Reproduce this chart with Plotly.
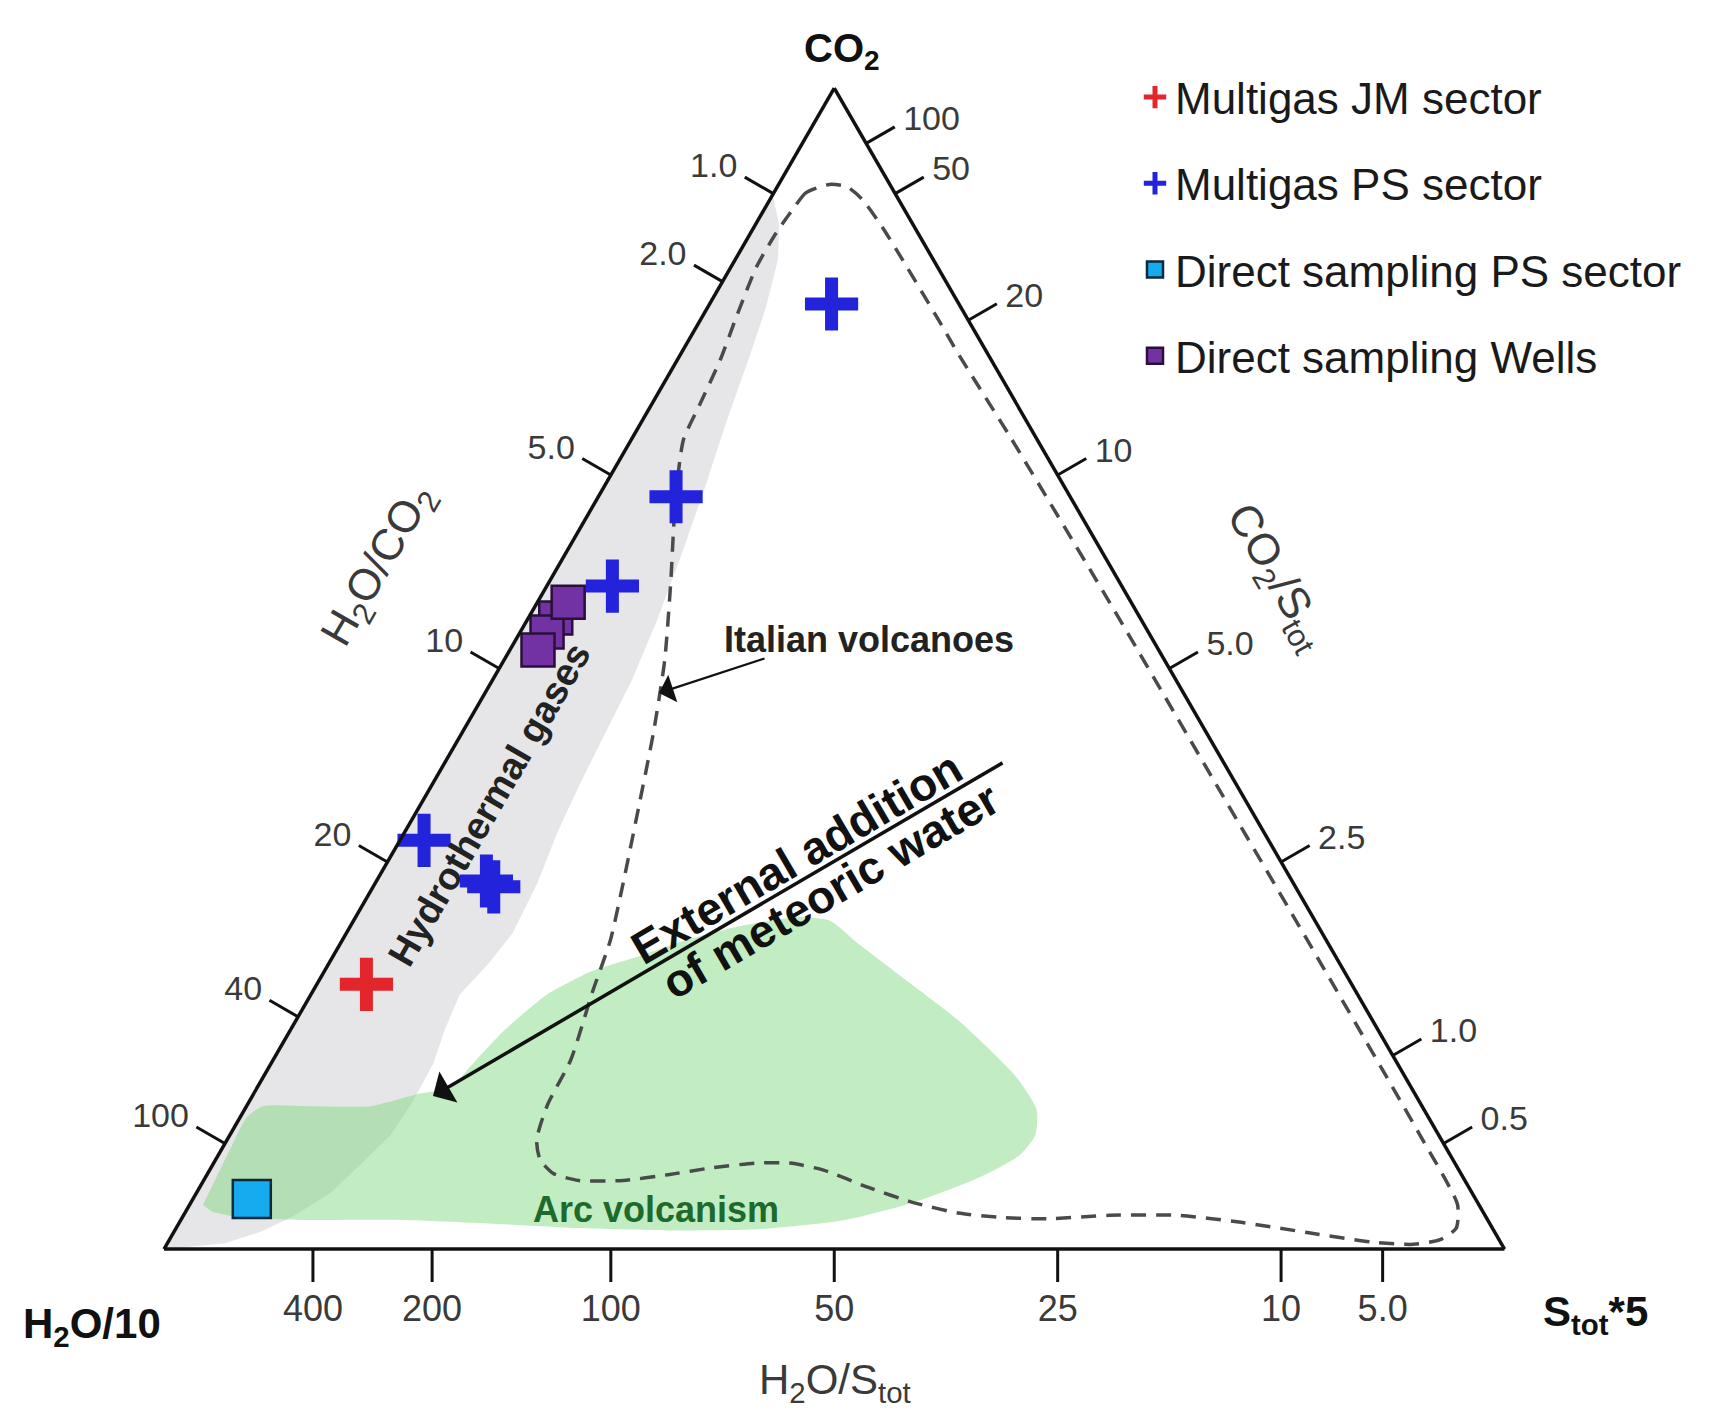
import plotly.graph_objects as go

# ---------------- data: ternary components in percent (CO2, H2O/10, Stot*5) ----------------
jm_co2 = [22.8]
jm_h2o = [73.5]
jm_s = [3.7]

ps_co2 = [81.4, 64.8, 57.1, 35.2, 31.7, 31.2]
ps_h2o = [9.5, 29.4, 38.0, 63.0, 60.1, 59.8]
ps_s = [9.1, 5.8, 4.9, 1.8, 8.2, 9.0]

dps_co2 = [4.3]
dps_h2o = [91.3]
dps_s = [4.4]

wells_co2 = [54.35, 53.15, 51.6, 55.7]
wells_h2o = [43.6, 44.85, 46.3, 42.0]
wells_s = [2.05, 2.0, 2.1, 2.3]

# Hydrothermal gases field
grey_co2 = [90.8, 88.2, 85.2, 80.9, 76.6, 71.4, 65.4, 59.8, 54.2, 49.0, 44.3, 40.0, 35.9, 31.5,
            27.2, 24.5, 21.9, 18.9, 16.0, 12.8, 9.8, 7.5, 4.8, 2.8, 1.5, 0.5, 0.1, 0.0]
grey_h2o = [9.2, 10.0, 11.6, 14.7, 18.1, 22.3, 27.0, 31.5, 36.1, 40.6, 45.0, 49.0, 52.7, 56.4,
            60.4, 63.6, 67.0, 69.6, 71.9, 75.0, 78.2, 81.4, 85.2, 89.0, 92.0, 95.2, 98.8, 100.0]
grey_s = [0.0, 1.8, 3.2, 4.4, 5.3, 6.3, 7.6, 8.7, 9.7, 10.4, 10.7, 11.0, 11.4, 12.1,
          12.4, 11.9, 11.1, 11.5, 12.1, 12.2, 12.0, 11.1, 10.0, 8.2, 6.5, 4.3, 1.1, 0.0]

# Arc volcanism field
arc_co2 = [3.8, 6.4, 9.0, 11.3, 12.3, 12.3, 12.3, 13.4, 13.9, 16.1, 18.9, 21.9, 23.9, 25.1, 26.6,
           27.9, 28.6, 28.3, 26.2, 24.0, 19.7, 14.8, 12.0, 9.8, 8.1, 6.2, 4.0, 2.5, 1.7, 1.6,
           1.8, 2.2, 2.5, 2.5, 2.7, 3.2]
arc_h2o = [95.2, 92.8, 90.4, 88.2, 86.5, 83.0, 78.5, 74.2, 71.7, 68.8, 65.1, 60.5, 56.2, 52.3, 47.8,
           42.7, 38.3, 36.2, 35.0, 33.6, 30.9, 29.0, 28.9, 30.1, 32.1, 36.0, 42.1, 47.9, 54.9, 61.6,
           68.2, 74.7, 81.1, 88.6, 93.0, 94.8]
arc_s = [1.0, 0.8, 0.6, 0.5, 1.2, 4.7, 9.2, 12.4, 14.4, 15.1, 16.0, 17.6, 19.9, 22.6, 25.6,
         29.4, 33.1, 35.5, 38.8, 42.4, 49.4, 56.2, 59.1, 60.1, 59.8, 57.8, 53.9, 49.6, 43.4, 36.8,
         30.0, 23.1, 16.4, 8.9, 4.3, 2.0]

# Italian volcanoes field (dashed outline)
ita_co2 = [91.7, 91.0, 89.3, 87.5, 84.6, 80.6, 76.6, 72.7, 69.7, 64.5, 57.4, 50.7, 44.4, 38.0,
           31.5, 26.6, 22.1, 16.3, 12.4, 9.4, 7.7, 6.5, 5.9, 5.9, 6.4, 7.0, 7.4, 7.4, 6.8, 5.3,
           4.0, 3.1, 2.7, 2.6, 2.9, 2.9, 2.3, 1.4, 0.6, 0.4, 0.8, 1.8, 3.8, 10.0, 25.0, 40.0,
           55.0, 70.0, 77.2, 79.4, 85.2, 88.0, 90.4, 91.5, 91.7]
ita_h2o = [4.5, 6.6, 8.6, 10.6, 13.5, 16.9, 20.2, 23.7, 26.4, 29.6, 33.5, 37.3, 41.3, 45.6,
           50.0, 53.4, 57.0, 61.5, 65.2, 67.5, 68.1, 67.7, 66.1, 62.8, 59.2, 55.6, 52.1, 49.6, 47.4, 44.8,
           42.1, 39.2, 36.0, 32.8, 28.0, 22.9, 18.5, 13.9, 9.6, 6.6, 4.4, 2.7, 1.6, 1.4, 1.4, 1.5,
           1.6, 1.9, 2.2, 2.2, 2.3, 2.4, 2.7, 3.3, 4.5]
ita_s = [3.8, 2.4, 2.1, 1.9, 1.9, 2.5, 3.2, 3.6, 3.9, 5.9, 9.1, 12.0, 14.3, 16.4,
         18.5, 20.0, 20.9, 22.2, 22.4, 23.1, 24.2, 25.8, 28.0, 31.3, 34.4, 37.4, 40.5, 43.0, 45.8, 49.9,
         53.9, 57.7, 61.3, 64.6, 69.1, 74.2, 79.2, 84.7, 89.8, 93.0, 94.8, 95.5, 94.6, 88.6, 73.6, 58.5,
         43.4, 28.1, 20.6, 18.4, 12.5, 9.6, 6.9, 5.2, 3.8]

# Ratio ticks along each side
h2o_co2_ratios = [1.0, 2.0, 5.0, 10, 20, 40, 100]
h2o_co2_labels = ["1.0", "2.0", "5.0", "10", "20", "40", "100"]
h2o_s_ratios = [400, 200, 100, 50, 25, 10, 5.0]
h2o_s_labels = ["400", "200", "100", "50", "25", "10", "5.0"]
co2_s_ratios = [100, 50, 20, 10, 5.0, 2.5, 1.0, 0.5]
co2_s_labels = ["100", "50", "20", "10", "5.0", "2.5", "1.0", "0.5"]

# ratio -> position on the edge (component definitions: CO2, H2O/10, Stot*5)
a_ticks = [100 * 10 / (10 + r) for r in h2o_co2_ratios]   # left edge: H2O/CO2 = 10 b / a
b_ticks = [100 * r / (50 + r) for r in h2o_s_ratios]      # bottom edge: H2O/Stot = 50 b / c
c_ticks = [100 * 5 / (5 + r) for r in co2_s_ratios]       # right edge: CO2/Stot = 5 a / c

W, H = 1722, 1411
TRI_L, TRI_R, TRI_BASE = 164, 1504.5, 1249
SQ3 = 3 ** 0.5
TRI_W = TRI_R - TRI_L
TRI_H = TRI_W * SQ3 / 2
TRI_TOP = TRI_BASE - TRI_H
FONT = "Liberation Sans, Arial, Helvetica, sans-serif"
TICK_LEN = 33 / TRI_W          # tick length in triangle-side units
COS30, SIN30 = SQ3 / 2, 0.5


def tern_xy(a, b, c):
    """Ternary percentages -> overlay cartesian units (triangle side = 1)."""
    s = a + b + c
    return (c + a / 2) / s, (a * SQ3 / 2) / s


def px(x):
    return x / W


def py(y):
    return 1 - y / H


left_xy = [tern_xy(v, 100 - v, 0) for v in a_ticks]
bottom_xy = [tern_xy(0, v, 100 - v) for v in b_ticks]
right_xy = [tern_xy(100 - v, 0, v) for v in c_ticks]

fig = go.Figure()

fig.add_trace(go.Scatterternary(a=grey_co2, b=grey_h2o, c=grey_s, mode="lines", fill="toself",
                                fillcolor="#e6e6e8", line=dict(width=0, color="#e6e6e8"),
                                showlegend=False, hoverinfo="skip"))
fig.add_trace(go.Scatterternary(a=arc_co2, b=arc_h2o, c=arc_s, mode="lines", fill="toself",
                                fillcolor="rgba(120,215,120,0.45)",
                                line=dict(width=0, color="rgba(120,215,120,0)", shape="spline", smoothing=0.6),
                                showlegend=False, hoverinfo="skip"))
fig.add_trace(go.Scatterternary(a=ita_co2, b=ita_h2o, c=ita_s, mode="lines",
                                line=dict(width=3.5, color="#4a4a4a", dash="15px,10px", shape="spline", smoothing=0.6),
                                showlegend=False, hoverinfo="skip"))

fig.add_trace(go.Scatterternary(a=jm_co2, b=jm_h2o, c=jm_s, mode="markers", name="Multigas JM sector",
                                legendgroup="g1", cliponaxis=False,
                                marker=dict(symbol="cross-thin", size=38, color="#e2262b",
                                            line=dict(width=13, color="#e2262b"))))
fig.add_trace(go.Scatterternary(a=ps_co2, b=ps_h2o, c=ps_s, mode="markers", name="Multigas PS sector",
                                legendgroup="g2", cliponaxis=False,
                                marker=dict(symbol="cross-thin", size=38, color="#2323dc",
                                            line=dict(width=13, color="#2323dc"))))
fig.add_trace(go.Scatterternary(a=dps_co2, b=dps_h2o, c=dps_s, mode="markers",
                                name="Direct sampling PS sector", legendgroup="g3", cliponaxis=False,
                                marker=dict(symbol="square", size=38, color="#16aaee",
                                            line=dict(width=2.5, color="#0b2a3a"))))
fig.add_trace(go.Scatterternary(a=wells_co2, b=wells_h2o, c=wells_s, mode="markers",
                                name="Direct sampling Wells", legendgroup="g4", cliponaxis=False,
                                marker=dict(symbol="square", size=33, color="#7332a3",
                                            line=dict(width=2.5, color="#2a0f3a"))))


# ---- perpendicular ratio ticks, drawn on an invisible cartesian overlay aligned with the triangle ----
def tick_trace(points, normal):
    xs, ys = [], []
    for x0, y0 in points:
        xs += [x0, x0 + normal[0] * TICK_LEN, None]
        ys += [y0, y0 + normal[1] * TICK_LEN, None]
    return go.Scatter(x=xs, y=ys, mode="lines", line=dict(color="#111111", width=3),
                      showlegend=False, hoverinfo="skip", xaxis="x", yaxis="y")


def label_trace(points, labels, off_px, pos, size):
    return go.Scatter(x=[p[0] + off_px[0] / TRI_W for p in points],
                      y=[p[1] + off_px[1] / TRI_W for p in points],
                      mode="text", text=labels, textposition=pos, cliponaxis=False,
                      showlegend=False, hoverinfo="skip", xaxis="x", yaxis="y",
                      textfont=dict(size=size, color="#3a3a3a", family=FONT))


fig.add_trace(tick_trace(left_xy, (-COS30, SIN30)))
fig.add_trace(tick_trace(right_xy, (COS30, SIN30)))
fig.add_trace(tick_trace(bottom_xy, (0, -1)))
fig.add_trace(label_trace(left_xy, h2o_co2_labels, (-36, 25), "middle left", 34))
fig.add_trace(label_trace(right_xy, co2_s_labels, (37, 22), "middle right", 34))
fig.add_trace(label_trace(bottom_xy, h2o_s_labels, (0, -63), "middle center", 36))

axis_common = dict(showgrid=False, showline=True, linecolor="#111111", linewidth=3.5,
                   ticks="", showticklabels=False, min=0, title=dict(text=""))

fig.update_layout(
    width=W, height=H,
    margin=dict(l=0, r=0, t=0, b=0),
    paper_bgcolor="white",
    plot_bgcolor="rgba(0,0,0,0)",
    font=dict(family=FONT, color="#222222"),
    xaxis=dict(domain=[0, 1], range=[-TRI_L / TRI_W, (W - TRI_L) / TRI_W], visible=False, fixedrange=True),
    yaxis=dict(domain=[0, 1], range=[-(H - TRI_BASE) / TRI_W, TRI_BASE / TRI_W], visible=False, fixedrange=True),
    ternary=dict(
        sum=100,
        bgcolor="rgba(0,0,0,0)",
        domain=dict(x=[TRI_L / W, TRI_R / W], y=[(H - TRI_BASE) / H, (H - TRI_TOP) / H]),
        aaxis=axis_common, baxis=axis_common, caxis=axis_common,
    ),
    legend=dict(x=px(1135), y=py(62), xanchor="left", yanchor="top",
                font=dict(size=44, color="#1a1a1a", family=FONT),
                tracegroupgap=26, bgcolor="rgba(0,0,0,0)"),
    showlegend=True,
)

ann = []


def label(text, x, y, size, color="#1a1a1a", angle=0):
    ann.append(dict(text=text, x=px(x), y=py(y), xref="paper", yref="paper", showarrow=False,
                    xanchor="center", yanchor="middle", textangle=angle,
                    font=dict(size=size, color=color, family=FONT)))


label("<b>CO<sub>2</sub></b>", 842, 51, 40, "#111111")
label("<b>H<sub>2</sub>O/10</b>", 92, 1326, 42, "#111111")
label("<b>S<sub>tot</sub>*5</b>", 1595, 1314, 42, "#111111")
label("H<sub>2</sub>O/CO<sub>2</sub>", 379, 566, 44, "#3a3a3a", -60)
label("CO<sub>2</sub>/S<sub>tot</sub>", 1276, 577, 44, "#3a3a3a", 60)
label("H<sub>2</sub>O/S<sub>tot</sub>", 835, 1382, 42, "#3a3a3a")
label("<b>Italian volcanoes</b>", 869, 640, 36, "#222222")
label("<b>Hydrothermal gases</b>", 489, 805, 38, "#222222", -60)
label("<b>External addition</b>", 796, 858, 46, "#111111", -30.3)
label("<b>of meteoric water</b>", 830, 891, 46, "#111111", -30.3)
label("<b>Arc volcanism</b>", 656, 1209, 36, "#1e6a2a")

# arrows
ann.append(dict(text="", x=px(433), y=py(1096), xref="paper", yref="paper", showarrow=True,
                ax=1004 - 433, ay=762 - 1096, arrowhead=1, arrowsize=1.7, arrowwidth=3.5,
                arrowcolor="#111111", standoff=0))
ann.append(dict(text="", x=px(659), y=py(693), xref="paper", yref="paper", showarrow=True,
                ax=766 - 659, ay=658 - 693, arrowhead=1, arrowsize=2.2, arrowwidth=2.2,
                arrowcolor="#111111", standoff=0))

fig.update_layout(annotations=ann)

fig.write_html("out.html")
